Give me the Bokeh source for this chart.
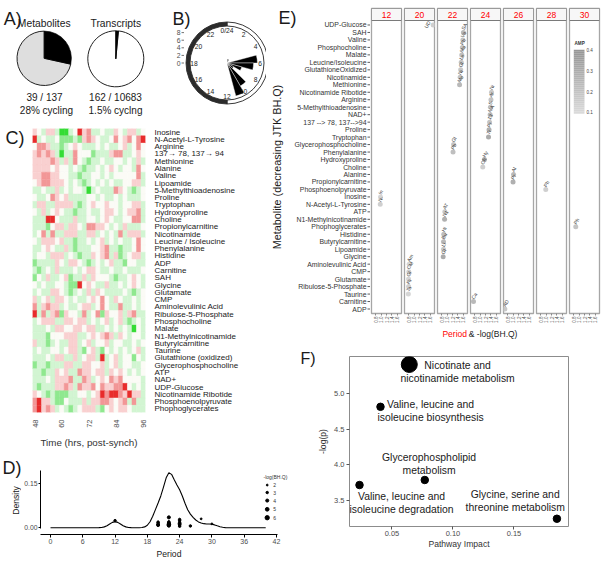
import math
import numpy as np
from bokeh.plotting import figure
from bokeh.models import (Range1d, FactorRange, FixedTicker, PrintfTickFormatter,
                          ColumnDataSource, GridBox)
from bokeh.layouts import row, column
from bokeh.core.properties import value
from bokeh.transform import linear_cmap
from bokeh.embed import file_html
from bokeh.resources import INLINE

# ======================= DATA =======================
# A) pies
pie_titles = ["Metabolites", "Transcripts"]
pie_cycling = [39, 162]
pie_total = [137, 10683]
pie_captions = ["28% cycling", "1.5% cyclng"]

# B) phase clock (rose): bin start hour and number of metabolites
clock_bin_start = [0, 1, 5, 6, 7, 8, 9, 10]
clock_counts = [1, 1, 8, 7, 4, 2, 7, 9]
clock_hour_ticks = [0, 2, 4, 6, 8, 10, 12, 14, 16, 18, 20, 22]
clock_hour_labels = ["0/24", "2", "4", "6", "8", "10", "12", "14", "16", "18", "20", "22"]
clock_radial_ticks = [0, 2, 4, 6, 8]

# C) heatmap
heat_times = [48, 50, 52, 54, 56, 58, 60, 62, 64, 66, 68, 70, 72,
              74, 76, 78, 80, 82, 84, 86, 88, 90, 92, 94, 96]
heat_time_ticks = [48, 60, 72, 84, 96]
heat_names = ["Inosine", "N-Acetyl-L-Tyrosine", "Arginine", "137\u2192 78, 137\u2192 94",
              "Methionine", "Alanine", "Valine", "Lipoamide", "5-Methylthioadenosine",
              "Proline", "Tryptophan", "Hydroxyproline", "Choline", "Propionylcarnitine",
              "Nicotinamide", "Leucine / Isoleucine", "Phenylalanine", "Histidine", "ADP",
              "Carnitine", "SAH", "Glycine", "Glutamate", "CMP", "Aminolevulinic Acid",
              "Ribulose-5-Phosphate", "Phosphocholine", "Malate", "N1-Methylnicotinamide",
              "Butyrylcarnitine", "Taurine", "Glutathione (oxidized)", "Glycerophosphocholine",
              "ATP", "NAD+", "UDP-Glucose", "Nicotinamide Ribotide", "Phosphoenolpyruvate",
              "Phophoglycerates"]
# a,b,c = strong/medium/light green (-3..-1), 0 = neutral, 1,2,3 = light/medium/strong red
heat_rows = [
    "10c11caac0312cc0cc10c11c0",
    "3c0cc0bbbcb1210cc02012023",
    "0221ccbc010ccc0c0cc01c020",
    "12121cacc2000bccc122cc010",
    "111121c1c20cbcc0cc00c0c1c",
    "11110100c0cbcc0c010c00c20",
    "11221100ccbcc00c0c000002c",
    "01221110c0cbc0c0c0cc0011c",
    "cc0cc1c0c00cac0ccc210cbc0",
    "0cc02101cccc00c0cc0c0ccc0",
    "c11cc1111cbc0100100c0011c",
    "0c1c010ccbcc0cc0110c0112c",
    "ccc330ccc1cc00c010cc0022c",
    "cccb011c110c22110c0c1ccc0",
    "c02c2cc111cc11c0c0c2c111c",
    "0c11101ccbcc0c01c0c0cc020",
    "cc010cc1cbccc0012ccbcc020",
    "c00c111c0cbcc1012c1bc011c",
    "bcccc10c110cbc0c01ccb00cc",
    "cbc0c1ccc0c0110cc0cc0ccc0",
    "b0c1cc01bcc1c1000cbcc010c",
    "0c0cc00cbb3010cc1cc0c010c",
    "c0cc110cbc0c1c10cccc0cbc0",
    "1c01c110c0cc01020c10cc0c0",
    "2c1211c0cc011c020cc2cc0c0",
    "3c2c12b100c2c02b1001c12cc",
    "c0111cc11011c0c01c01cbc0c",
    "ccc0c110011011cc0c0c0ca0c",
    "cccb000111cc010121c10c00c",
    "1ccbc0cc11c01c001c00cc0c0",
    "c0cc00c011cb01cb0c0c0c01c",
    "ccc0c11cc1c011c3c01c00b0c",
    "bccbccc11cc11001c01c00cc0",
    "ccbcc101cc211011c1010c0c0",
    "ccc0c1112cc21c0102120000c",
    "cbccc1121c211202112230c0c",
    "10cbcbbbcc00c01323321311c",
    "2311cbb0ccc1c11221012c2cc",
    "23121c0cbc0111cb010110ccc",
]

# D) density of periods (read off the curve) and dots
dens_period = [0, 8.5, 9, 9.5, 10, 10.5, 11, 11.5, 12, 12.5, 13, 13.5, 14, 14.5, 15, 15.5,
               16, 16.5, 17, 17.5, 18, 18.5, 19, 19.5, 20, 20.5, 21, 21.5, 22, 22.5, 23,
               23.5, 24, 24.5, 25, 25.5, 26, 26.5, 27, 27.5, 28, 28.5, 29, 29.5, 30, 30.5,
               31, 31.5, 32, 32.5, 33, 33.5, 34, 40]
dens_value = [0, 0, 0.0002, 0.0009, 0.0028, 0.0066, 0.0124, 0.0181, 0.0205, 0.0181, 0.0124,
              0.0066, 0.0028, 0.0009, 0.0002, 0, 0, 0.0001, 0.0007, 0.0027, 0.0084, 0.0203,
              0.0390, 0.0613, 0.0835, 0.1075, 0.1376, 0.1688, 0.1858, 0.1806, 0.1623, 0.1449,
              0.1286, 0.1074, 0.0826, 0.0611, 0.0460, 0.0349, 0.0261, 0.0197, 0.0158, 0.0137,
              0.0127, 0.0124, 0.0116, 0.0095, 0.0063, 0.0033, 0.0014, 0.0004, 0.0001, 0, 0, 0]
dot_period = [12, 20, 20, 20, 20, 22, 22, 22, 22, 22, 22, 24, 24, 24, 24, 24, 24, 26, 28, 30]
dot_y = [0.024, 0.019, 0.016, 0.012, 0.009, 0.035, 0.020, 0.016, 0.013, 0.010, 0.007,
         0.028, 0.024, 0.018, 0.013, 0.009, 0.005, 0.006, 0.030, 0.013]
dot_logq = [3, 3, 3, 3, 4, 4, 3, 4, 4, 5, 4, 3, 3, 3, 4, 3, 3, 3, 2, 2]
size_legend_values = [2, 3, 4, 5, 6]
dens_x_ticks = [0, 6, 12, 18, 24, 30, 36, 42]
dens_y_ticks = [0.0, 0.15]

# E) facets by period
e_names = ["UDP-Glucose", "SAH", "Valine", "Phosphocholine", "Malate", "Leucine/Isoleucine",
           "GlutathioneOxidized", "Nicotinamide", "Methionine", "Nicotinamide Ribotide",
           "Arginine", "5-Methylthioadenosine", "NAD+", "137 --> 78, 137-->94", "Proline",
           "Tryptophan", "Glycerophosphocholine", "Phenylalanine", "Hydroxyproline", "Choline",
           "Alanine", "Propionylcarnitine", "Phosphoenolpyruvate", "Inosine",
           "N-Acetyl-L-Tyrosine", "ATP", "N1-Methylnicotinamide", "Phophoglycerates",
           "Histidine", "Butyrylcarnitine", "Lipoamide", "Glycine", "Aminolevulinic Acid",
           "CMP", "Glutamate", "Ribulose-5-Phosphate", "Taurine", "Carnitine", "ADP"]
e_period = [20, 22, 22, 22, 22, 22, 22, 22, 22, 24, 24, 24, 24, 24, 24, 24, 22, 22, 24, 24,
            26, 26, 28, 12, 12, 22, 22, 30, 22, 22, 22, 22, 20, 20, 20, 20, 20, 24, 26]
e_logq = [1.70, 1.60, 1.58, 1.56, 1.54, 1.52, 1.50, 1.48, 1.46, 1.42, 1.40, 1.38, 1.37, 1.35,
          1.33, 1.31, 1.24, 1.22, 1.16, 1.10, 1.02, 1.00, 0.99, 0.98, 0.97, 0.92, 0.91, 0.88,
          0.88, 0.87, 0.87, 0.86, 0.82, 0.81, 0.80, 0.80, 0.79, 0.76, 0.70]
e_amp = [0.15, 0.25, 0.20, 0.20, 0.22, 0.20, 0.18, 0.20, 0.25, 0.18, 0.20, 0.22, 0.25, 0.20,
         0.28, 0.30, 0.20, 0.22, 0.30, 0.15, 0.25, 0.28, 0.15, 0.12, 0.15, 0.18, 0.28, 0.20,
         0.22, 0.25, 0.18, 0.30, 0.12, 0.15, 0.12, 0.15, 0.12, 0.25, 0.18]
facet_periods = [12, 20, 22, 24, 26, 28, 30]
e_x_ticks = [0.8, 1.0, 1.2, 1.4, 1.6]
amp_ticks = [0.1, 0.2, 0.3, 0.4]

# F) pathway enrichment
f_names = ["Nicotinate and\nnicotinamide metabolism",
           "Valine, leucine and\nisoleucine biosynthesis",
           "Glycerophospholipid\nmetabolism",
           "Valine, leucine and\nisoleucine degradation",
           "Glycine, serine and\nthreonine metabolism"]
f_impact = [0.0642, 0.0406, 0.0769, 0.0234, 0.1852]
f_logp = [5.40, 4.81, 3.79, 3.72, 3.25]
f_count = [3, 1, 1, 1, 1]
f_x_ticks = [0.05, 0.10, 0.15]
f_y_ticks = [3.5, 4.0, 4.5, 5.0]

# ======================= STYLE / LAYOUT =======================
FONT = "Liberation Sans"
FV = value(FONT)
DARK = "#1a1a1a"
TICKC = "#4d4d4d"
LETTER = "18px"


def blank(p):
    p.grid.visible = False
    p.outline_line_color = None
    p.background_fill_color = "white"
    p.border_fill_color = "white"


def mkfig(w, h, xr, yr, **kw):
    opts = dict(width=w, height=h, x_range=xr, y_range=yr,
                output_backend="svg", toolbar_location=None)
    opts.update(kw)
    p = figure(**opts)
    blank(p)
    return p


def bare(w, h, xr, yr):
    return mkfig(w, h, xr, yr, x_axis_location=None, y_axis_location=None, min_border=0)


def txt(p, x, y, t, size, color=DARK, align="left", baseline="alphabetic",
        angle=0.0, style="normal", **kw):
    return p.text(x=x, y=y, text=t, text_font=FV, text_font_size=value(size),
                  text_color=color, text_align=align, text_baseline=baseline,
                  angle=angle, text_font_style=style, **kw)


def style_axis(ax, tick_size, tick_color=TICKC, standoff=2, tick_out=3,
               line_color="black", tick_line=None, label=None, label_size="8.5px",
               label_standoff=3, label_color=DARK):
    ax.major_label_text_font = FONT
    ax.major_label_text_font_size = tick_size
    ax.major_label_text_color = tick_color
    ax.major_label_standoff = standoff
    ax.major_tick_out = tick_out
    ax.major_tick_in = 0
    ax.minor_tick_line_color = None
    ax.major_tick_line_color = tick_line if tick_line is not None else line_color
    ax.axis_line_color = line_color
    if label is not None:
        ax.axis_label = label
        ax.axis_label_text_font = FONT
        ax.axis_label_text_font_size = label_size
        ax.axis_label_text_font_style = "normal"
        ax.axis_label_text_color = label_color
        ax.axis_label_standoff = label_standoff


# ---------------- A) pies ----------------
AW, AH = 171, 119
pA = bare(AW, AH, Range1d(0, AW), Range1d(0, AH))
frac = [c / t for c, t in zip(pie_cycling, pie_total)]
pie_cx = [43.7, 115.3]
pie_cy = [AH - 57.8, AH - 58.3]
pie_r = [27.2, 28.0]
pA.wedge(x=pie_cx, y=pie_cy, radius=pie_r, start_angle=[math.pi / 2] * 2,
         end_angle=[math.pi / 2 - 2 * math.pi * f + 2 * math.pi for f in frac],
         fill_color=["#dedede", "white"], line_color="#222222", line_width=1)
pA.wedge(x=pie_cx, y=pie_cy, radius=pie_r,
         start_angle=[math.pi / 2 - 2 * math.pi * f for f in frac],
         end_angle=[math.pi / 2] * 2, fill_color="black", line_color="black", line_width=0.6)
txt(pA, [3.3], [AH - 18.5], ["A)"], LETTER)
txt(pA, pie_cx, [AH - 22.7] * 2, pie_titles, "10.3px", align="center", baseline="middle")
txt(pA, [44.0, 115.0], [AH - 96.5] * 2,
    ["%d / %d" % (c, t) for c, t in zip(pie_cycling, pie_total)],
    "10px", align="center", baseline="middle")
txt(pA, [46.0, 115.0], [AH - 110.0] * 2, pie_captions, "10px", align="center",
    baseline="middle")

# ---------------- B) clock ----------------
BW, BH = 95, 119
U = 3.8
ccx, ccy = 55.5, 62.5
pB = bare(BW, BH, Range1d(-ccx / U, (BW - ccx) / U), Range1d(-(BH - ccy) / U, ccy / U))
R_out, R_in, R_lab = 41 / U, 37 / U, 33 / U
pB.annular_wedge(x=0, y=0, inner_radius=R_in, outer_radius=R_out, start_angle=-math.pi / 2,
                 end_angle=math.pi / 2, fill_color="white", line_color="#222222", line_width=0.9)
pB.annular_wedge(x=0, y=0, inner_radius=R_in, outer_radius=R_out, start_angle=math.pi / 2,
                 end_angle=3 * math.pi / 2, fill_color="#2b2b2b", line_color="#2b2b2b",
                 line_width=0.9)
hr = 2 * math.pi / 24
pB.wedge(x=0, y=0, radius=clock_counts,
         start_angle=[math.pi / 2 - (h + 1) * hr for h in clock_bin_start],
         end_angle=[math.pi / 2 - h * hr for h in clock_bin_start],
         fill_color="black", line_color="white", line_width=0.4)
txt(pB, [R_lab * math.sin(h * hr) for h in clock_hour_ticks],
    [R_lab * math.cos(h * hr) for h in clock_hour_ticks], clock_hour_labels, "6.7px",
    align="center", baseline="middle")
rx = -ccx / U + 9.0 / U
txt(pB, [rx] * len(clock_radial_ticks), clock_radial_ticks,
    [str(v) for v in clock_radial_ticks], "6.8px", color=TICKC, align="right", baseline="middle")
pB.segment(x0=rx + 0.27, y0=clock_radial_ticks, x1=rx + 0.92, y1=clock_radial_ticks,
           line_color=TICKC, line_width=0.8)
txt(pB, [-ccx / U + 1.0 / U], [ccy / U - 18.5 / U], ["B)"], LETTER)

# ---------------- C) heatmap ----------------
CH = 331
pCl = bare(32, CH, Range1d(0, 32), Range1d(CH, 0))
txt(pCl, [5.0], [18.0], ["C)"], LETTER)

code = {"a": -3, "b": -2, "c": -1, "0": 0, "1": 1, "2": 2, "3": 3}
hx, hy, hv = [], [], []
for name, rowstr in zip(heat_names, heat_rows):
    for t, ch in zip(heat_times, rowstr):
        hx.append(t)
        hy.append(name)
        hv.append(code[ch])
HEAT_PAL = ["#35dc35", "#8fe88f", "#d2f5d2", "#fbfbf6", "#f9d0d0", "#f29797", "#e82c2c"]
pC = mkfig(234, CH, Range1d(47, 97), FactorRange(factors=heat_names[::-1]),
           y_axis_location="right", min_border_left=0, min_border_right=121,
           min_border_top=9, min_border_bottom=32)
hsrc = ColumnDataSource(dict(t=hx, name=hy, v=hv))
cmap = linear_cmap("v", HEAT_PAL, -3.5, 3.5)
pC.rect(x="t", y="name", width=2, height=1, source=hsrc, fill_color=cmap,
        line_color=cmap, line_width=0.4)
xa = pC.xaxis[0]
xa.ticker = FixedTicker(ticks=heat_time_ticks)
xa.major_label_orientation = math.pi / 2
style_axis(xa, "7.5px", standoff=7, tick_out=0, line_color=None,
           label="Time (hrs, post-synch)", label_size="9.8px", label_standoff=6,
           label_color="#333333")
ya = pC.yaxis[0]
style_axis(ya, "8px", tick_color=DARK, standoff=9, tick_out=0, line_color=None)

# ---------------- D) density ----------------
DHT = 111
DLW = 21
pDl = bare(DLW, DHT, Range1d(0, DLW), Range1d(DHT, 0))
txt(pDl, [2.0], [17.5], ["D)"], LETTER)
txt(pDl, [15.0], [50.0], ["Density"], "8.6px", align="center", baseline="middle",
    angle=math.pi / 2)
DXU = 5.38
D_L, D_R, D_T, D_B = 19, 1, 20, 25
DW = 298 - DLW
dx0 = -1.86
pD = mkfig(DW, DHT, Range1d(dx0, dx0 + (DW - D_L - D_R) / DXU), Range1d(-0.023, 0.1937),
           min_border_left=D_L, min_border_right=D_R, min_border_top=D_T, min_border_bottom=D_B)
assert len(dens_period) == len(dens_value)
pD.line(dens_period, dens_value, line_color="black", line_width=1.1)


def dsize(v):
    return 0.6 + 0.62 * v


pD.scatter(dot_period, dot_y, size=[dsize(v) for v in dot_logq], color="black")
leg_y = [0.1444, 0.1191, 0.0919, 0.0624, 0.0338]
txt(pD, [39.59], [0.1707], ["-log(BH.Q)"], "5px", baseline="middle", color="#333333")
pD.scatter([40.28] * 5, leg_y, size=[dsize(v) for v in size_legend_values], color="black")
txt(pD, [41.39] * 5, leg_y, [str(v) for v in size_legend_values], "5px", baseline="middle",
    color="#333333")
xa = pD.xaxis[0]
xa.ticker = FixedTicker(ticks=dens_x_ticks)
xa.bounds = (-1.86, 42.2)
style_axis(xa, "7px", standoff=1, tick_out=3, label="Period", label_size="8.6px",
           label_standoff=2)
ya = pD.yaxis[0]
ya.ticker = FixedTicker(ticks=dens_y_ticks)
ya.formatter = PrintfTickFormatter(format="%.2f")
ya.bounds = (-0.003, 0.194)
style_axis(ya, "6.8px", standoff=1, tick_out=2)

# ---------------- E) facets ----------------
E_PANEL_H, E_STRIP_H, E_TOP, E_BOT = 293, 12, 8, 14
EH = E_TOP + E_STRIP_H + E_PANEL_H + E_BOT
ppu = E_PANEL_H / 39.2
y_lo, y_pan = -0.6, 38.6
y_strip = y_pan + E_STRIP_H / ppu
row_y = [38 - k for k in range(len(e_names))]
GREY_PAL = ["#%02x%02x%02x" % (g, g, g) for g in np.linspace(0xda, 0x96, 32).astype(int)]

E0W = 104
y_e0_top = y_lo + (EH - E_BOT) / ppu
pE0 = mkfig(E0W, EH, Range1d(0, E0W), Range1d(y_lo, y_e0_top), x_axis_location=None,
            y_axis_location=None, min_border_left=0, min_border_right=0, min_border_top=0,
            min_border_bottom=E_BOT)
txt(pE0, [100] * len(e_names), row_y, e_names, "6.9px", color="#333333", align="right",
    baseline="middle")
pE0.segment(x0=101, y0=row_y, x1=104, y1=row_y, line_color="#333333", line_width=0.8)
txt(pE0, [12.0], [y_e0_top - 17.5 / ppu], ["E)"], LETTER)
txt(pE0, [10.0], [19], ["Metabolite (decreasing JTK BH.Q)"], "10.8px", align="center",
    baseline="middle", angle=math.pi / 2)

# AMP legend geometry (in facet data units, drawn inside the last facet)
LEG_X0, LEG_X1 = 0.8075, 1.1995
LEG_Y0, LEG_Y1 = 26.12, 34.68
LEG_LAB_Y0, LEG_LAB_Y1 = 26.33, 34.59

facets = []
for per in facet_periods:
    p = mkfig(33, EH, Range1d(0.65, 1.75), Range1d(y_lo, y_strip), y_axis_location=None,
              min_border_left=1, min_border_right=2, min_border_top=E_TOP,
              min_border_bottom=E_BOT)
    p.outline_line_color = "#a6a6a6"
    p.outline_line_width = 1.3
    p.quad(left=0.65, right=1.75, bottom=y_pan, top=y_strip, fill_color="#f7f7f7",
           line_color="#7a7a7a", line_width=1)
    txt(p, [1.2], [(y_pan + y_strip) / 2], [str(per)], "8.5px", color="red", align="center",
        baseline="middle")
    sel = [i for i in range(len(e_names)) if e_period[i] == per]
    xs = [e_logq[i] for i in sel]
    inward = [v > 1.6 for v in xs]
    src = ColumnDataSource(dict(x=xs, y=[row_y[i] for i in sel],
                                amp=[e_amp[i] for i in sel],
                                lab=[e_names[i][:2] for i in sel],
                                al=["right" if f else "left" for f in inward],
                                dx=[-4 if f else -1 for f in inward],
                                dy=[-3.5 if f else -3 for f in inward]))
    p.scatter("x", "y", source=src, size=5,
              fill_color=linear_cmap("amp", GREY_PAL, 0.1, 0.4), line_color=None)
    p.text("x", "y", text="lab", source=src, angle=math.radians(60), text_font=FV,
           text_font_size=value("5px"), text_color="#444444", text_align="al",
           text_baseline="middle", x_offset="dx", y_offset="dy")
    ax = p.xaxis[0]
    ax.ticker = FixedTicker(ticks=e_x_ticks)
    ax.formatter = PrintfTickFormatter(format="%.1f")
    ax.major_label_orientation = math.pi / 2
    style_axis(ax, "4.6px", tick_color="#555555", standoff=1, tick_out=2, line_color=None,
               tick_line="#888888")
    if per == facet_periods[-1]:
        n = len(GREY_PAL)
        step = (LEG_Y1 - LEG_Y0) / n
        p.quad(left=LEG_X0, right=LEG_X1, bottom=[LEG_Y0 + i * step for i in range(n)],
               top=[LEG_Y0 + (i + 1) * step + 0.02 for i in range(n)], fill_color=GREY_PAL,
               line_color=None)
        lab_y = [LEG_LAB_Y0 + (a - amp_ticks[0]) / (amp_ticks[-1] - amp_ticks[0])
                 * (LEG_LAB_Y1 - LEG_LAB_Y0) for a in amp_ticks]
        txt(p, [1.27] * len(amp_ticks), lab_y, ["%.1f" % a for a in amp_ticks], "4.6px",
            color="#444444", baseline="middle")
        txt(p, [0.833], [35.48], ["AMP"], "4.6px", color="#333333", baseline="middle",
            style="bold")
    facets.append(p)

EBW, EB_H = 337, 17
pEb = bare(EBW, EB_H, Range1d(0, EBW), Range1d(EB_H, 0))
txt(pEb, [200.5], [6.5], ["Period"], "8.5px", color="red", align="right", baseline="middle")
txt(pEb, [202.3], [6.5], ["& -log(BH.Q)"], "8.5px", align="left", baseline="middle")

# ---------------- F) pathways ----------------
FH = 217
pFl = bare(17, FH, Range1d(0, 17), Range1d(FH, 0))
txt(pFl, [2.0], [14.2], ["F)"], "16px")
pF = mkfig(288, FH, Range1d(0.0152, 0.1947), Range1d(3.142, 5.511), min_border_left=31,
           min_border_right=35, min_border_top=12, min_border_bottom=35)
pF.outline_line_color = "#8c8c8c"
pF.outline_line_width = 1
pF.scatter(f_impact, f_logp, size=[3.25 + 4.25 * c for c in f_count], color="black")
f_dx = [48.3, 50.1, 4.3, 42.0, -41.7]
f_dy = [7.4, 4.2, -15.8, 18.1, -18.0]
pF.text(x=f_impact, y=f_logp, text=f_names, x_offset=f_dx, y_offset=f_dy, text_font=FV,
        text_font_size=value("10.4px"), text_color=DARK, text_align="center",
        text_baseline="middle", text_line_height=1.2)
ax = pF.xaxis[0]
ax.ticker = FixedTicker(ticks=f_x_ticks)
ax.formatter = PrintfTickFormatter(format="%.2f")
style_axis(ax, "7.5px", standoff=1, tick_out=3, line_color=None, tick_line="#555555",
           label="Pathway Impact", label_size="8.6px", label_standoff=0,
           label_color="#333333")
ay = pF.yaxis[0]
ay.ticker = FixedTicker(ticks=f_y_ticks)
ay.formatter = PrintfTickFormatter(format="%.1f")
style_axis(ay, "7.5px", standoff=2, tick_out=3, line_color=None, tick_line="#555555",
           label="-log(p)", label_size="8.6px", label_standoff=3, label_color="#333333")

# ---------------- assemble ----------------
# (strip figures are wrapped in their own row/column so their frames are not aligned
#  with the neighbouring plot's frame)
grid = GridBox(children=[
    (row(pA, pB), 0, 0, 1, 1),
    (row(column(pCl), pC), 1, 0, 2, 1),
    (column(row(column(pE0), *facets), row(pEb)), 0, 1, 2, 2),
    (row(column(pDl), pD), 3, 0, 1, 2),
    (row(column(pFl), pF), 2, 2, 2, 1),
], rows=["119px", "225px", "106px", "111px"], cols=["266px", "32px", "305px"])

open("out.html", "w").write(file_html(grid, INLINE))
